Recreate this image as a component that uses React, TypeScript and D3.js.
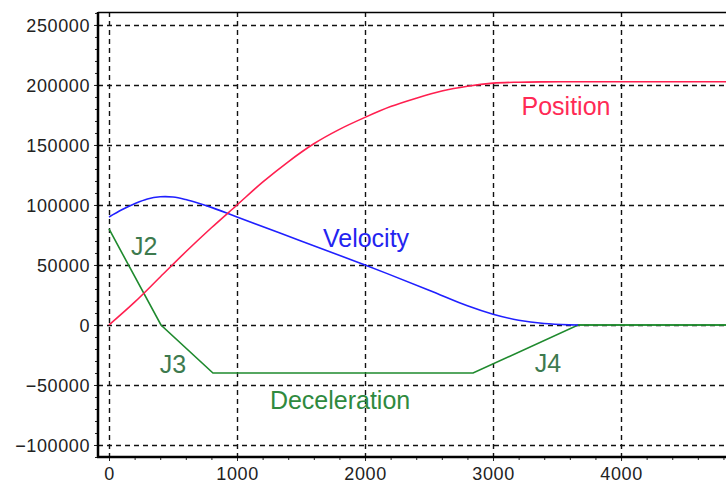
import React, { useEffect, useRef } from 'react'
import * as d3 from 'd3'

// x: time, y: values
const positionX = [0, 200, 400, 600, 800, 1000, 1200, 1400, 1600, 1800, 2000, 2200, 2400, 2600, 2800, 3000, 3200, 3400, 3600, 4820]
const positionY = [0, 19000, 40000, 61000, 81000, 100000, 119000, 136000, 151000, 163000, 173000, 182000, 189000, 195000, 199000, 201500, 202300, 202600, 202700, 202700]

const velocityX = [0, 100, 200, 300, 400, 500, 600, 700, 800, 1000, 1500, 2000, 2500, 2800, 3000, 3200, 3400, 3600, 3664]
const velocityY = [90000, 96000, 101000, 105000, 106800, 106600, 104500, 101500, 98000, 90000, 70000, 50000, 29000, 16000, 9000, 4000, 1200, 100, 0]

const decelX = [0, 406, 812, 2844, 3664, 4820]
const decelY = [80000, 0, -40000, -40000, 0, 0]

const xTicks = [0, 1000, 2000, 3000, 4000]
const yTicks = [-100000, -50000, 0, 50000, 100000, 150000, 200000, 250000]

const labels = [
  { text: 'Position', x: 3570, y: 175000, color: '#ff2a55' },
  { text: 'Velocity', x: 2008, y: 65000, color: '#2424f0' },
  { text: 'J2', x: 275, y: 58000, color: '#3d7a4e' },
  { text: 'J3', x: 500, y: -40000, color: '#3d7a4e' },
  { text: 'J4', x: 3430, y: -39000, color: '#3d7a4e' },
  { text: 'Deceleration', x: 1805, y: -70000, color: '#2f8a3e' }
]

const W = 726
const H = 486
const margin = { top: 12, right: 0, bottom: 29, left: 98 }

const App = () => {
  const ref = useRef<SVGSVGElement>(null)

  useEffect(() => {
    const svg = d3.select(ref.current)
    svg.selectAll('*').remove()

    const x = d3.scaleLinear().domain([-86, 4820]).range([margin.left, W - margin.right])
    const y = d3.scaleLinear().domain([-110000, 260800]).range([H - margin.bottom, margin.top])

    const font = 'Arial, "Liberation Sans", sans-serif'

    // grid
    const grid = svg.append('g')
    grid.selectAll('line.h')
      .data(yTicks)
      .enter()
      .append('line')
      .attr('x1', margin.left)
      .attr('x2', W)
      .attr('y1', d => Math.round(y(d)) + 0.5)
      .attr('y2', d => Math.round(y(d)) + 0.5)
      .style('stroke', '#111')
      .style('stroke-width', 1.4)
      .style('stroke-dasharray', '5,4')
    grid.selectAll('line.v')
      .data(xTicks)
      .enter()
      .append('line')
      .attr('y1', margin.top)
      .attr('y2', H - margin.bottom)
      .attr('x1', d => Math.round(x(d)) + 0.5)
      .attr('x2', d => Math.round(x(d)) + 0.5)
      .style('stroke', '#111')
      .style('stroke-width', 1.4)
      .style('stroke-dasharray', '5,4')

    // curves
    const smooth = d3.line<[number, number]>().x(d => x(d[0])).y(d => y(d[1])).curve(d3.curveMonotoneX)
    const round = d3.line<[number, number]>().x(d => x(d[0])).y(d => y(d[1])).curve(d3.curveCatmullRom)
    const line = d3.line<[number, number]>().x(d => x(d[0])).y(d => y(d[1]))
    const series = [
      { xs: decelX, ys: decelY, color: '#1f8a2e', gen: line },
      { xs: velocityX, ys: velocityY, color: '#2020ff', gen: round },
      { xs: positionX, ys: positionY, color: '#ff1f4f', gen: smooth }
    ]
    series.forEach(s => {
      svg.append('path')
        .attr('d', s.gen(s.xs.map((v, i) => [v, s.ys[i]] as [number, number])))
        .style('fill', 'none')
        .style('stroke', s.color)
        .style('stroke-width', 1.6)
    })
    // deceleration tail drawn over velocity at zero
    svg.append('path')
      .attr('d', line([[3664, 0], [4820, 0]]))
      .style('fill', 'none')
      .style('stroke', '#1f8a2e')
      .style('stroke-width', 1.6)

    // labels
    svg.selectAll('text.lbl')
      .data(labels)
      .enter()
      .append('text')
      .attr('x', d => x(d.x))
      .attr('y', d => y(d.y))
      .attr('text-anchor', 'middle')
      .style('font-family', font)
      .style('font-size', '25px')
      .style('fill', d => d.color)
      .text(d => d.text)

    // frame
    svg.append('line')
      .attr('x1', margin.left).attr('x2', W)
      .attr('y1', margin.top + 0.5).attr('y2', margin.top + 0.5)
      .style('stroke', '#000').style('stroke-width', 1.5)

    // axes
    const xAxis = d3.axisBottom(x).tickValues(xTicks).tickSize(4).tickPadding(4).tickFormat(d3.format('d'))
    const xMinor = d3.axisBottom(x).tickValues(d3.range(0, 4801, 200)).tickSize(3).tickFormat(() => '')
    const yAxis = d3.axisLeft(y).tickValues(yTicks).tickSize(4).tickPadding(4).tickFormat(d3.format('d'))
    const yMinor = d3.axisLeft(y).tickValues(d3.range(-110000, 260001, 10000)).tickSize(3).tickFormat(() => '')

    const gxm = svg.append('g').attr('transform', `translate(0,${H - margin.bottom})`).call(xMinor)
    const gx = svg.append('g').attr('transform', `translate(0,${H - margin.bottom})`).call(xAxis)
    const gym = svg.append('g').attr('transform', `translate(${margin.left},0)`).call(yMinor)
    const gy = svg.append('g').attr('transform', `translate(${margin.left},0)`).call(yAxis)

    ;[gx, gxm, gy, gym].forEach(g => {
      g.select('.domain').remove()
      g.selectAll('line').style('stroke', '#222')
      g.selectAll('text')
        .style('font-family', font)
        .style('font-size', '18px')
        .style('letter-spacing', '0.6px')
        .style('fill', '#222')
    })
    gx.selectAll('text').attr('dy', '0.85em')
    gy.selectAll('text').attr('dy', '0.35em')

    svg.append('line')
      .attr('x1', margin.left - 1).attr('x2', W)
      .attr('y1', H - margin.bottom).attr('y2', H - margin.bottom)
      .style('stroke', '#000').style('stroke-width', 2.5)
    svg.append('line')
      .attr('x1', margin.left).attr('x2', margin.left)
      .attr('y1', margin.top).attr('y2', H - margin.bottom + 1)
      .style('stroke', '#000').style('stroke-width', 2.5)
  }, [])

  return (
    <svg
      ref={ref}
      width={W}
      height={H}
      style={{ position: 'absolute', left: 0, top: 0, background: '#fff' }}
    />
  )
}

export default App
